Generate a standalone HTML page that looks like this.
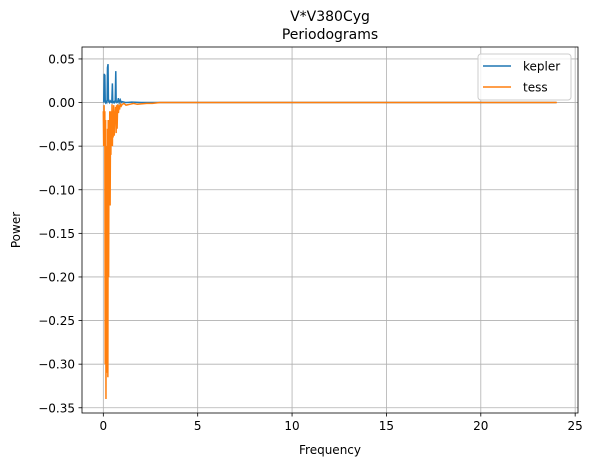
<!DOCTYPE html>
<html><head><meta charset="utf-8"><style>
body{margin:0;background:#fff;font-family:"Liberation Sans","DejaVu Sans",sans-serif}
svg text{font-family:"DejaVu Sans","Liberation Sans",sans-serif;font-size:12px;fill:#000}
</style></head><body>
<svg id="c" width="593" height="470"></svg>
<script>
const keplerFreq=[0.02,0.05,0.06,0.08,0.1,0.12,0.15,0.18,0.2,0.22,0.25,0.27,0.3,0.33,0.36,0.4,0.45,0.48,0.5,0.53,0.57,0.6,0.63,0.66,0.68,0.72,0.76,0.8,0.84,0.9,0.95,1.0,1.2,1.5,2,5,10,15,20,24];
const keplerPow=[0.0,0.033,0.001,0.032,0.002,0.0,0.001,0.0,0.002,0.04,0.044,0.002,0.001,0.0,0.002,0.001,0.0,0.022,0.001,0.0,0.001,0.0,0.002,0.036,0.001,0.0,0.001,0.005,0.0,0.003,0.0,0.001,0.0,0.0005,0.0,0.0,0.0,0.0,0.0,0.0];
const tessFreq=[0.0,0.02,0.04,0.06,0.08,0.1,0.12,0.14,0.16,0.18,0.2,0.22,0.24,0.26,0.28,0.3,0.32,0.34,0.36,0.38,0.4,0.42,0.44,0.46,0.48,0.5,0.52,0.55,0.58,0.6,0.62,0.65,0.68,0.7,0.73,0.76,0.8,0.83,0.86,0.9,0.95,1.0,1.1,1.2,1.4,1.6,1.8,2.0,2.3,2.6,3,5,10,15,20,24.03];
const tessPow=[-0.01,-0.05,-0.003,-0.05,-0.01,-0.3,-0.02,-0.34,-0.05,-0.2,-0.31,-0.03,-0.315,-0.02,-0.2,-0.05,-0.118,-0.01,-0.118,-0.03,-0.06,-0.01,-0.05,-0.002,-0.05,-0.01,-0.04,-0.003,-0.038,-0.01,-0.02,-0.005,-0.035,-0.003,-0.03,-0.002,-0.012,-0.003,-0.008,-0.002,-0.004,-0.002,-0.001,-0.003,-0.002,-0.001,-0.002,-0.0015,-0.001,-0.001,0,0,0,0,0,0];
const xTicks=[0,5,10,15,20,25];
const yTicks=[0.05,0,-0.05,-0.10,-0.15,-0.20,-0.25,-0.30,-0.35];
const L=82,R=578,T=47,B=413,xmin=-1.13,xmax=25.15,ymin=-0.356,ymax=0.0637;
const X=v=>L+(v-xmin)/(xmax-xmin)*(R-L), Y=v=>T+(ymax-v)/(ymax-ymin)*(B-T);
const s=document.getElementById('c'),NS='http://www.w3.org/2000/svg';
function el(t,a,txt){const e=document.createElementNS(NS,t);for(const k in a)e.setAttribute(k,a[k]);if(txt!==undefined)e.textContent=txt;s.appendChild(e);return e;}
xTicks.forEach(v=>{const x=X(v);
const g=el('line',{x1:x,x2:x,y1:T,y2:B,stroke:'#b0b0b0','stroke-width':0.8});
const t=el('line',{x1:x,x2:x,y1:B,y2:B+3.5,stroke:'#000','stroke-width':0.8});
const l=el('text',{x:x,y:B+17,'text-anchor':'middle'},String(v));});
yTicks.forEach(v=>{const y=Y(v);
const g=el('line',{x1:L,x2:R,y1:y,y2:y,stroke:'#b0b0b0','stroke-width':0.8});
const t=el('line',{x1:L-3.5,x2:L,y1:y,y2:y,stroke:'#000','stroke-width':0.8});
const l=el('text',{x:L-7,y:y+4.5,'text-anchor':'end'},v.toFixed(2).replace('-','−'));});
function line(fx,fy,c,n){const p=el('polyline',{points:fx.map((f,i)=>X(f)+','+Y(fy[i])).join(' '),fill:'none',stroke:c,'stroke-width':1.5});}
line(keplerFreq,keplerPow,'#1f77b4','kepler-line');
line(tessFreq,tessPow,'#ff7f0e','tess-line');
const fr=el('rect',{x:L,y:T,width:R-L,height:B-T,fill:'none',stroke:'#000','stroke-width':0.8});
const t1=el('text',{x:(L+R)/2,y:21,'text-anchor':'middle',style:'font-size:14px'},'V*V380Cyg');
const t2=el('text',{x:(L+R)/2,y:39,'text-anchor':'middle',style:'font-size:14px'},'Periodograms');
const xl=el('text',{x:(L+R)/2,y:454,'text-anchor':'middle'},'Frequency');
const yl=el('text',{x:0,y:0,'text-anchor':'middle',transform:`translate(20,${(T+B)/2}) rotate(-90)`},'Power');
const lg=el('rect',{x:478,y:54,width:93,height:46,rx:3,fill:'#fff','fill-opacity':0.8,stroke:'#ccc'});
[['kepler','#1f77b4',66],['tess','#ff7f0e',87]].forEach(([n,c,y])=>{
const a=el('line',{x1:483,x2:511,y1:y,y2:y,stroke:c,'stroke-width':1.5});
const b=el('text',{x:523,y:y+4.5},n);});
</script></body></html>
